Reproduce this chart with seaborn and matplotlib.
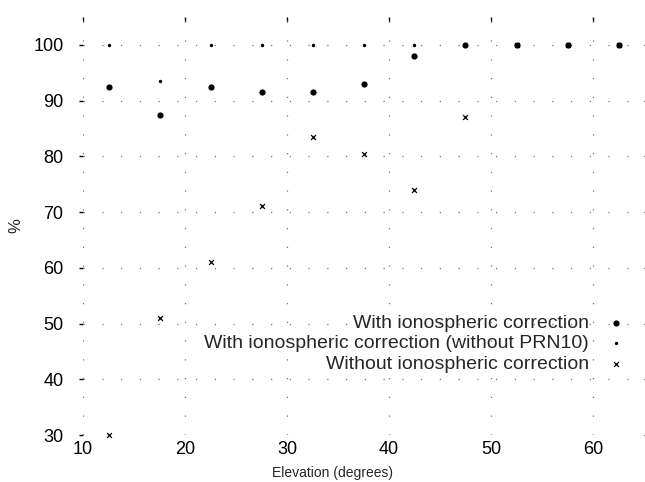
import matplotlib
matplotlib.use("Agg")
import matplotlib.pyplot as plt
import seaborn as sns
import pandas as pd

# Percentage of epochs within tolerance, per 5-degree elevation bin
elevation = [12.5, 17.5, 22.5, 27.5, 32.5, 37.5, 42.5, 47.5, 52.5, 57.5, 62.5]
with_iono = [92.5, 87.5, 92.5, 91.5, 91.5, 93.0, 98.0, 100, 100, 100, 100]
with_iono_no_prn10 = [100, 93.5, 100, 100, 100, 100, 100, 100, 100, 100, 100]
without_iono = [30, 51, 61, 71, 83.5, 80.5, 74, 87, 100, 100, 100]

series_labels = [
    "With ionospheric correction",
    "With ionospheric correction (without PRN10)",
    "Without ionospheric correction",
]
x_ticks = [10, 20, 30, 40, 50, 60]
y_ticks = [30, 40, 50, 60, 70, 80, 90, 100]

sns.set_theme(style="white")
plt.rcParams["font.family"] = ["Liberation Sans", "DejaVu Sans"]

df = pd.concat([
    pd.DataFrame({"elev": elevation, "pct": with_iono, "series": series_labels[0]}),
    pd.DataFrame({"elev": elevation, "pct": with_iono_no_prn10, "series": series_labels[1]}),
    pd.DataFrame({"elev": elevation, "pct": without_iono, "series": series_labels[2]}),
])

fig = plt.figure(figsize=(6.45, 4.82), dpi=100)
ax = fig.add_axes([83 / 645, 1 - 435 / 482, 561 / 645, 418 / 482])

styles = {
    series_labels[0]: dict(marker="o", s=20, linewidth=0),
    series_labels[1]: dict(marker="o", s=6, linewidth=0),
    series_labels[2]: dict(marker="x", s=12, linewidth=0.9),
}
for name in series_labels:
    sub = df[df["series"] == name]
    sns.scatterplot(data=sub, x="elev", y="pct", ax=ax, color="black",
                    label=name, clip_on=False, zorder=3, **styles[name])

ax.set_xlim(10, 65)
ax.set_ylim(30, 105)
ax.set_xticks(x_ticks)
ax.set_yticks(y_ticks)
ax.tick_params(axis="both", labelsize=13, colors="black", width=1, length=3,
               direction="in", top=True, right=True, pad=4)
ax.tick_params(axis="y", which="both", left=True, direction="out", pad=11)

for sp in ax.spines.values():
    sp.set_visible(False)

ax.grid(True, color="0.45", linewidth=0.9, linestyle=(0, (1, 14)))

ax.set_xlabel("Elevation (degrees)", fontsize=10, labelpad=0)
ax.xaxis.set_label_coords((333 - 83) / 561, -0.075)
ax.set_ylabel("%", fontsize=12, rotation=90, labelpad=0)
ax.yaxis.set_label_coords((23 - 83) / 561, 0.5)

leg = ax.legend(loc="upper right", bbox_to_anchor=(633 / 645, 1 - 314 / 482),
                bbox_transform=fig.transFigure, frameon=False, markerfirst=False,
                fontsize=14, handletextpad=0.45, handlelength=1.8,
                labelspacing=0.16, borderpad=0, borderaxespad=0)

fig.savefig("out.png", dpi=100)
